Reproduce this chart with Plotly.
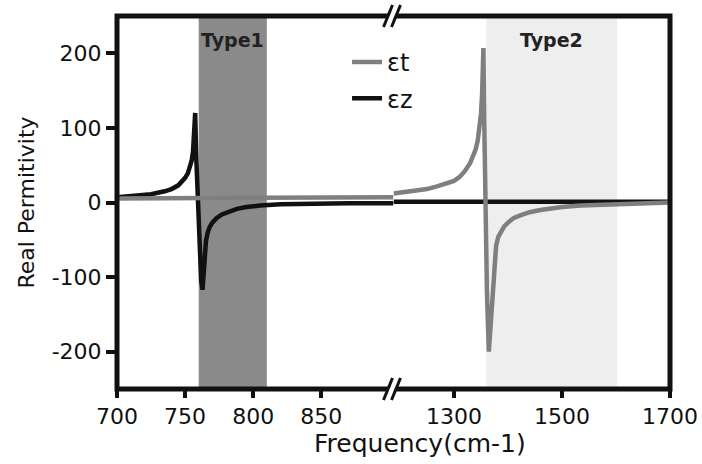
import plotly.graph_objects as go

# ---------------- data ----------------
# eps_z (black), low-frequency segment
ez_low_f = [700, 715, 725, 735, 740, 745, 748, 750, 752, 753.5, 754.8, 755.8, 756.5,
            757, 757.4, 758.2, 759.3, 760.5, 761.8, 762.8, 763.6, 764.4, 765.3, 766.5,
            768, 770, 773, 777, 782, 788, 795, 805, 820, 840, 870, 903]
ez_low_v = [7, 9, 11, 15, 18, 23, 28, 33, 39, 46, 56, 68, 85,
            105, 120, 60, 0, -60, -105, -117, -95, -70, -52, -41,
            -33, -27, -21, -16, -12, -8.5, -6, -4, -2.5, -1.5, -1, -1]
# eps_z (black), high-frequency segment
ez_high_f = [1188, 1300, 1400, 1500, 1600, 1700]
ez_high_v = [1, 1, 1, 1, 1, 1]

# eps_t (gray), low-frequency segment
et_low_f = [700, 750, 800, 850, 903]
et_low_v = [5.5, 6, 6.5, 7, 7]
# eps_t (gray), high-frequency segment
et_high_f = [1188, 1210, 1230, 1250, 1270, 1290, 1300, 1310, 1320, 1330, 1336, 1340,
             1344, 1347, 1350, 1352, 1353.5, 1354.5, 1356, 1358, 1361, 1364.5, 1367,
             1369, 1371, 1373, 1375, 1378, 1382, 1387, 1393, 1400, 1410, 1424, 1440,
             1460, 1480, 1500, 1535, 1570, 1610, 1650, 1700]
et_high_v = [12, 14, 16, 18, 22, 26, 29, 34, 42, 53, 62, 71,
             83, 97, 119, 145, 175, 207, 110, 0, -120, -200, -175,
             -145, -120, -95, -75, -58, -46, -38, -32, -27, -21, -17, -13,
             -10, -7.5, -6, -4, -3, -2, -1, 0]

# shaded bands (cm-1)
band_names = ["Type1", "Type2"]
band_lo = [760, 1360]
band_hi = [810, 1602]

# ticks
x_low_ticks = [700, 750, 800, 850]
x_high_ticks = [1300, 1500, 1700]
y_ticks = [-200, -100, 0, 100, 200]
y_ticktext = ["-200", "-100", "0", "100", "200"]

FONT = "DejaVu Sans"
BLACK = "#111111"
GRAY = "#7f7f7f"

fig = go.Figure()

# black first so gray lies on top
fig.add_trace(go.Scatter(x=ez_low_f, y=ez_low_v, xaxis="x", yaxis="y", mode="lines",
                         line=dict(color=BLACK, width=4.5), name="εz",
                         legendgroup="z", legendrank=2, showlegend=True))
fig.add_trace(go.Scatter(x=ez_high_f, y=ez_high_v, xaxis="x2", yaxis="y", mode="lines",
                         line=dict(color=BLACK, width=4.5), name="εz",
                         legendgroup="z", legendrank=2, showlegend=False))
fig.add_trace(go.Scatter(x=et_low_f, y=et_low_v, xaxis="x", yaxis="y", mode="lines",
                         line=dict(color=GRAY, width=4.5), name="εt",
                         legendgroup="t", legendrank=1, showlegend=False))
fig.add_trace(go.Scatter(x=et_high_f, y=et_high_v, xaxis="x2", yaxis="y", mode="lines",
                         line=dict(color=GRAY, width=4.5), name="εt",
                         legendgroup="t", legendrank=1, showlegend=True))

shapes = []
# shaded bands
shapes.append(dict(type="rect", xref="x", yref="paper", x0=band_lo[0], x1=band_hi[0],
                   y0=0, y1=1, fillcolor="#8a8a8a", line=dict(width=0), layer="below"))
shapes.append(dict(type="rect", xref="x2", yref="paper", x0=band_lo[1], x1=band_hi[1],
                   y0=0, y1=1, fillcolor="#eeeeee", line=dict(width=0), layer="below"))
# frame
shapes.append(dict(type="rect", xref="paper", yref="paper", x0=0, x1=1, y0=0, y1=1,
                   line=dict(color=BLACK, width=5), layer="above"))
# break marks (top and bottom)
for ya in (0, 1):
    shapes.append(dict(type="line", xref="paper", yref="paper", xsizemode="pixel",
                       ysizemode="pixel", xanchor=0.5, yanchor=ya,
                       x0=-6, x1=3, y0=-10, y1=10,
                       line=dict(color="white", width=5), layer="above"))
    for dx in (-4, 4):
        shapes.append(dict(type="line", xref="paper", yref="paper", xsizemode="pixel",
                           ysizemode="pixel", xanchor=0.5, yanchor=ya,
                           x0=-6 + dx, x1=3 + dx, y0=-11, y1=11,
                           line=dict(color=BLACK, width=3), layer="above"))

annotations = [
    dict(text="<b>Type1</b>", xref="x", yref="paper", x=(band_lo[0] + band_hi[0]) / 2,
         y=0.935, yanchor="middle", showarrow=False,
         font=dict(family=FONT, size=19, color="#222222")),
    dict(text="<b>Type2</b>", xref="x2", yref="paper", x=(band_lo[1] + band_hi[1]) / 2,
         y=0.935, yanchor="middle", showarrow=False,
         font=dict(family=FONT, size=19, color="#222222")),
    dict(text="Frequency(cm-1)", xref="paper", yref="paper", x=0.548, y=0,
         yanchor="middle", yshift=-54, showarrow=False,
         font=dict(family=FONT, size=25, color=BLACK)),
]

tickfont = dict(family=FONT, size=22, color=BLACK)
axis_common = dict(showgrid=False, zeroline=False, showline=False, ticks="outside",
                   ticklen=8, tickwidth=4, tickcolor=BLACK, tickfont=tickfont,
                   automargin=False)

fig.update_layout(
    width=702, height=464,
    margin=dict(l=117, r=32, t=16, b=75),
    paper_bgcolor="white", plot_bgcolor="white",
    font=dict(family=FONT, color=BLACK),
    xaxis=dict(domain=[0, 0.5], range=[700, 903], tickvals=x_low_ticks,
               anchor="y", **axis_common),
    xaxis2=dict(domain=[0.5, 1], range=[1188, 1700], tickvals=x_high_ticks,
                anchor="y", **axis_common),
    yaxis=dict(range=[-250, 250], tickvals=y_ticks, ticktext=y_ticktext, anchor="x",
               showgrid=False, zeroline=False, showline=False, ticks="outside",
               ticklen=10, tickwidth=4, tickcolor=BLACK, tickfont=tickfont,
               automargin=False,
               title=dict(text="Real Permitivity", standoff=10,
                          font=dict(family=FONT, size=22, color=BLACK))),
    shapes=shapes,
    annotations=annotations,
    showlegend=True,
    legend=dict(x=0.416, y=0.936, xanchor="left", yanchor="top",
                bgcolor="rgba(0,0,0,0)", font=dict(family=FONT, size=24, color=BLACK),
                tracegroupgap=2, traceorder="grouped"),
)

fig.write_html("out.html",
               config={"displayModeBar": False},
               post_script="document.body.style.margin='0px';"
                           "document.body.style.padding='0px';")
